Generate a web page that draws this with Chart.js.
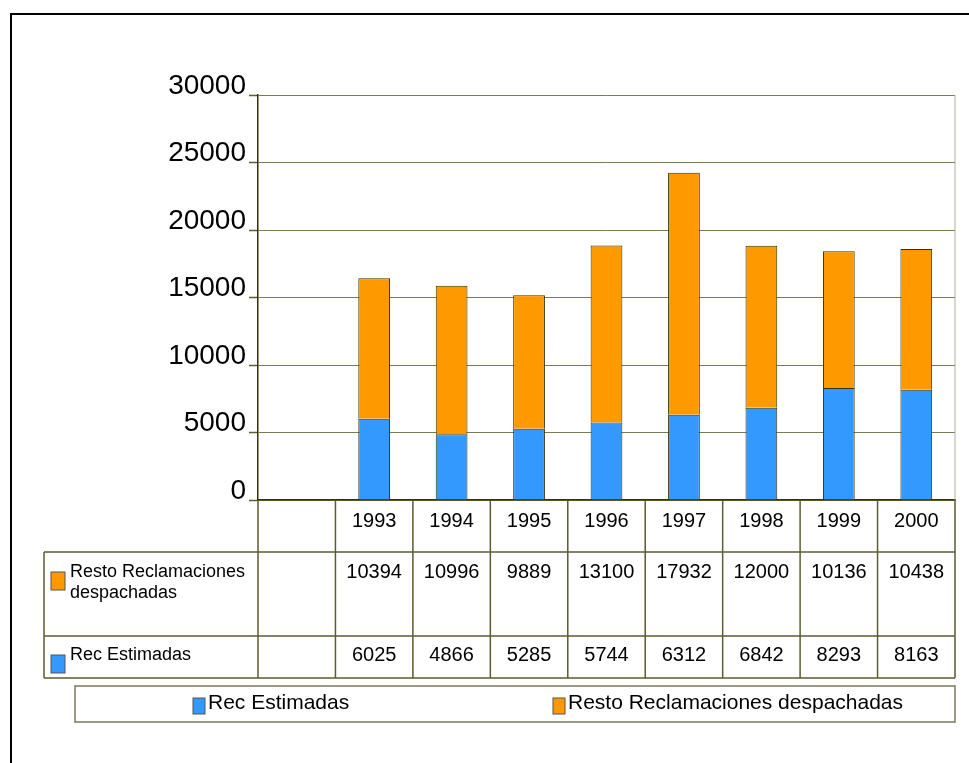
<!DOCTYPE html>
<html>
<head>
<meta charset="utf-8">
<script src="https://cdn.jsdelivr.net/npm/chart.js@4/dist/chart.umd.min.js"></script>
<style>
  body { margin: 0; background: #fff; }
  canvas { display: block; }
</style>
</head>
<body>
<canvas id="recChart" width="969" height="763"></canvas>
<script>
// categories: first slot is an empty column, like the original sheet
var years = ['', '1993', '1994', '1995', '1996', '1997', '1998', '1999', '2000'];
var recEstimadas = [null, 6025, 4866, 5285, 5744, 6312, 6842, 8293, 8163];
var restoReclamaciones = [null, 10394, 10996, 9889, 13100, 17932, 12000, 10136, 10438];
var yTicks = [0, 5000, 10000, 15000, 20000, 25000, 30000];

var lineCol = '#5c5c33';
var fontFam = '"Liberation Sans", Arial, sans-serif';

/* outer frame, data table under the plot and the legend box */
var tablePlugin = {
    id: 'tablePlugin',
    beforeDraw: function (chart) {
        var ctx = chart.ctx;
        ctx.save();
        ctx.fillStyle = '#fff';
        ctx.fillRect(0, 0, chart.width, chart.height);
        ctx.strokeStyle = '#000';
        ctx.lineWidth = 2;
        ctx.beginPath();
        ctx.moveTo(11, 763);
        ctx.lineTo(11, 14);
        ctx.lineTo(969, 14);
        ctx.stroke();
        ctx.restore();
    },
    afterDraw: function (chart) {
        var ctx = chart.ctx;
        var xs = chart.scales.x;
        var area = chart.chartArea;
        var slot = xs.getPixelForValue(1) - xs.getPixelForValue(0);
        var edges = [];
        for (var i = 0; i < years.length; i++) edges.push(xs.getPixelForValue(i) - slot / 2);
        edges.push(xs.getPixelForValue(years.length - 1) + slot / 2);

        var y0 = area.bottom, y1 = 552, y2 = 636, y3 = 678, left = 44;
        ctx.save();

        // light right edge of the plot
        ctx.strokeStyle = '#b0b0a0';
        ctx.lineWidth = 1;
        ctx.beginPath();
        ctx.moveTo(area.right, area.top);
        ctx.lineTo(area.right, area.bottom);
        ctx.stroke();

        ctx.strokeStyle = lineCol;
        ctx.lineWidth = 1.5;
        ctx.beginPath();
        [y1, y2, y3].forEach(function (y) {
            ctx.moveTo(left, y);
            ctx.lineTo(edges[edges.length - 1], y);
        });
        ctx.moveTo(left, y1);
        ctx.lineTo(left, y3);
        edges.forEach(function (x) {
            ctx.moveTo(x, y0);
            ctx.lineTo(x, y3);
        });
        ctx.stroke();

        ctx.fillStyle = '#000';
        ctx.textAlign = 'center';
        ctx.textBaseline = 'middle';
        ctx.font = '20px ' + fontFam;
        for (var j = 1; j < years.length; j++) {
            var cx = xs.getPixelForValue(j);
            ctx.fillText(years[j], cx, 521);
            ctx.fillText(String(restoReclamaciones[j]), cx, 572);
            ctx.fillText(String(recEstimadas[j]), cx, 655);
        }

        // row labels with colour keys
        var dsRec = chart.data.datasets[0];
        var dsResto = chart.data.datasets[1];
        ctx.textAlign = 'left';
        ctx.font = '18px ' + fontFam;
        ctx.lineWidth = 1;
        ctx.strokeStyle = '#555';
        ctx.fillStyle = dsResto.backgroundColor;
        ctx.fillRect(51, 572, 14, 18);
        ctx.strokeRect(51, 572, 14, 18);
        ctx.fillStyle = dsRec.backgroundColor;
        ctx.fillRect(51, 655, 14, 18);
        ctx.strokeRect(51, 655, 14, 18);
        ctx.fillStyle = '#000';
        ctx.fillText('Resto Reclamaciones', 70, 572);
        ctx.fillText('despachadas', 70, 593);
        ctx.fillText(dsRec.label, 70, 655);

        // legend box
        ctx.strokeStyle = '#7a7a5c';
        ctx.lineWidth = 1.5;
        ctx.strokeRect(75, 686, 880, 36);
        ctx.font = '21px ' + fontFam;
        [[dsRec, 193], [dsResto, 553]].forEach(function (it) {
            ctx.fillStyle = it[0].backgroundColor;
            ctx.fillRect(it[1], 698, 12, 16);
            ctx.strokeStyle = '#555';
            ctx.lineWidth = 1;
            ctx.strokeRect(it[1], 698, 12, 16);
            ctx.fillStyle = '#000';
            ctx.fillText(it[0].label, it[1] + 15, 703);
        });
        ctx.restore();
    }
};

var ctxRec = document.getElementById('recChart');
var recChart = new Chart(ctxRec, {
    type: 'bar',
    data: {
        labels: years,
        datasets: [{
            label: 'Rec Estimadas',
            data: recEstimadas,
            backgroundColor: '#3399ff',
            borderColor: '#333300',
            borderWidth: 1
        }, {
            label: 'Resto Reclamaciones despachadas',
            data: restoReclamaciones,
            backgroundColor: '#ff9900',
            borderColor: '#333300',
            borderWidth: 1
        }]
    },
    options: {
        responsive: false,
        animation: false,
        devicePixelRatio: 1,
        barPercentage: 0.41,
        categoryPercentage: 1,
        layout: { autoPadding: false, padding: { top: 95, right: 14, bottom: 263, left: 0 } },
        plugins: { legend: { display: false }, tooltip: { enabled: false } },
        scales: {
            x: {
                stacked: true,
                ticks: { display: false },
                grid: { display: false },
                border: { color: '#333300', width: 1.5 },
                afterFit: function (s) { s.height = 0; }
            },
            y: {
                stacked: true,
                min: 0,
                max: 30000,
                afterBuildTicks: function (s) { s.ticks = yTicks.map(function (v) { return { value: v }; }); },
                ticks: {
                    color: '#000',
                    font: { family: fontFam, size: 28 },
                    padding: 3,
                    labelOffset: -9,
                    callback: function (v) { return String(v); }
                },
                grid: { color: '#7a7a55', lineWidth: 1, tickLength: 9, tickColor: '#5c5c33', tickWidth: 1.5 },
                border: { color: '#333300', width: 1.5 },
                afterFit: function (s) { s.width = 258; }
            }
        }
    },
    plugins: [tablePlugin]
});
</script>
</body>
</html>
